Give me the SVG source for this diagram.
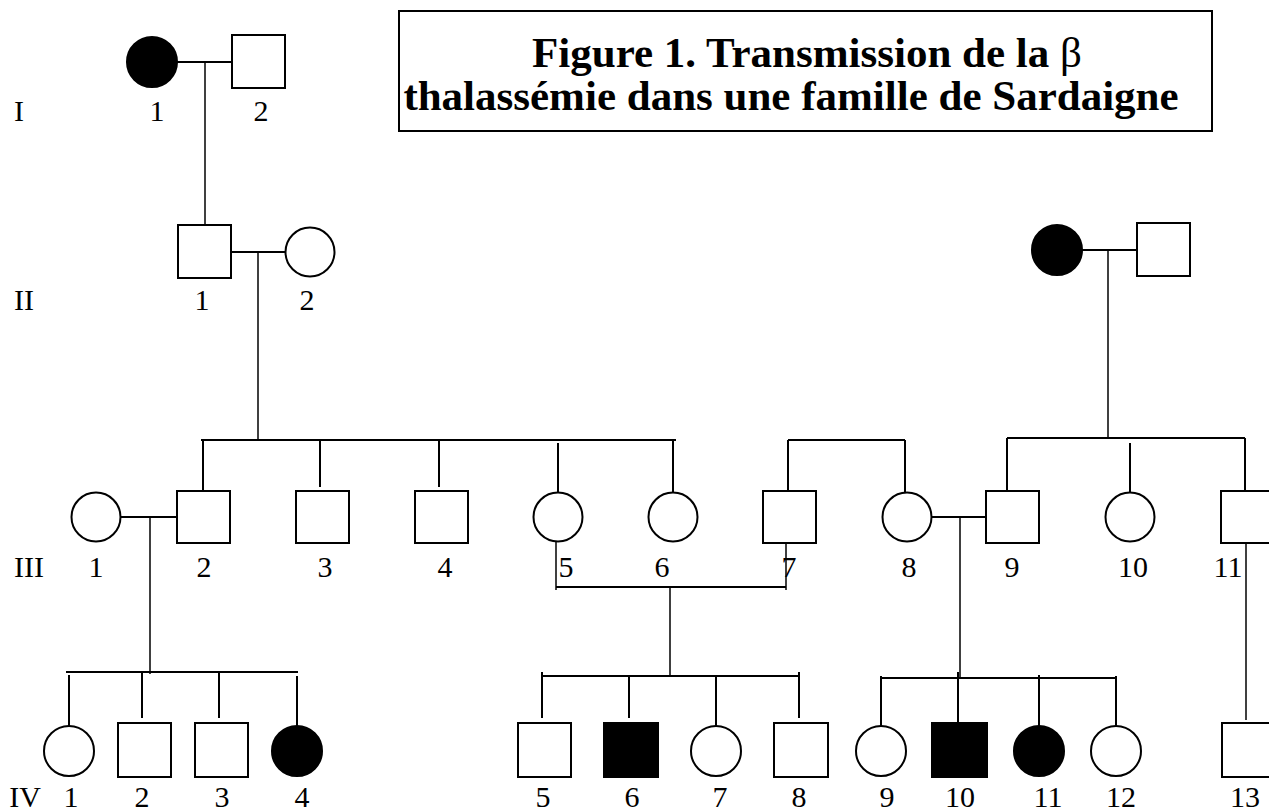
<svg xmlns="http://www.w3.org/2000/svg" width="1269" height="811" viewBox="0 0 1269 811">
<style>
.sh{fill:#fff;stroke:#000;stroke-width:2}
.af{fill:#000;stroke:#000;stroke-width:2}
.ln{stroke:#000;stroke-width:2;fill:none}
.th{stroke:#000;stroke-width:1.5;fill:none}
.lb{font-family:"Liberation Serif","Times New Roman",serif;font-size:30px;fill:#000;text-anchor:middle}
.tt{font-family:"Liberation Serif","Times New Roman",serif;font-size:43px;font-weight:bold;fill:#000;text-anchor:middle}
</style>
<rect width="1269" height="811" fill="#fff"/>
<g id="title">
<rect x="399" y="11" width="813" height="120" fill="#fff" stroke="#000" stroke-width="2"/>
<text class="tt" x="807" y="67">Figure 1. Transmission de la <tspan font-weight="normal">β</tspan></text>
<text class="tt" x="791" y="110">thalassémie dans une famille de Sardaigne</text>
</g>
<g id="generation-labels">
<text class="lb" x="19" y="121">I</text>
<text class="lb" x="24" y="310">II</text>
<text class="lb" x="29" y="577">III</text>
<text class="lb" x="25" y="807">IV</text>
</g>
<g id="connectors">
<line class="ln" x1="177" y1="62" x2="232" y2="62"/>
<line class="th" x1="205" y1="62" x2="205" y2="226"/>
<line class="ln" x1="231" y1="252" x2="286" y2="252"/>
<line class="th" x1="258" y1="252" x2="258" y2="440"/>
<line class="ln" x1="1082" y1="250" x2="1137" y2="250"/>
<line class="th" x1="1108" y1="250" x2="1108" y2="438"/>
<line class="ln" x1="201" y1="440" x2="676" y2="440"/>
<line class="ln" x1="203" y1="440" x2="203" y2="491"/>
<line class="ln" x1="320" y1="440" x2="320" y2="487"/>
<line class="ln" x1="439" y1="440" x2="439" y2="487"/>
<line class="ln" x1="558" y1="443" x2="558" y2="492"/>
<line class="ln" x1="673" y1="440" x2="673" y2="492"/>
<line class="ln" x1="788" y1="440" x2="905" y2="440"/>
<line class="ln" x1="788" y1="440" x2="788" y2="491"/>
<line class="ln" x1="905" y1="440" x2="905" y2="492"/>
<line class="ln" x1="1007" y1="438" x2="1245" y2="438"/>
<line class="ln" x1="1007" y1="438" x2="1007" y2="491"/>
<line class="ln" x1="1130" y1="443" x2="1130" y2="492"/>
<line class="ln" x1="1245" y1="438" x2="1245" y2="491"/>
<line class="ln" x1="120" y1="517" x2="177" y2="517"/>
<line class="th" x1="150" y1="517" x2="150" y2="674"/>
<line class="ln" x1="931" y1="517" x2="986" y2="517"/>
<line class="th" x1="960" y1="517" x2="960" y2="678"/>
<line class="th" x1="556" y1="542" x2="556" y2="590"/>
<line class="th" x1="786" y1="543" x2="786" y2="590"/>
<line class="ln" x1="556" y1="587" x2="786" y2="587"/>
<line class="th" x1="670" y1="587" x2="670" y2="676"/>
<line class="th" x1="1246" y1="543" x2="1246" y2="720"/>
<line class="ln" x1="66" y1="672" x2="298" y2="672"/>
<line class="ln" x1="69" y1="675" x2="69" y2="726"/>
<line class="ln" x1="142" y1="672" x2="142" y2="718"/>
<line class="ln" x1="219" y1="672" x2="219" y2="718"/>
<line class="ln" x1="297" y1="676" x2="297" y2="726"/>
<line class="ln" x1="542" y1="676" x2="800" y2="676"/>
<line class="ln" x1="542" y1="672" x2="542" y2="718"/>
<line class="ln" x1="629" y1="676" x2="629" y2="718"/>
<line class="ln" x1="716" y1="676" x2="716" y2="726"/>
<line class="ln" x1="799" y1="672" x2="799" y2="718"/>
<line class="ln" x1="881" y1="678" x2="1116" y2="678"/>
<line class="ln" x1="881" y1="676" x2="881" y2="726"/>
<line class="ln" x1="958" y1="672" x2="958" y2="723"/>
<line class="ln" x1="1039" y1="675" x2="1039" y2="726"/>
<line class="ln" x1="1116" y1="676" x2="1116" y2="726"/>
</g>
<g id="I-1"><circle class="af" cx="152" cy="62" r="25"/><text class="lb" x="157" y="121">1</text></g>
<g id="I-2"><rect class="sh" x="232" y="35" width="53" height="53"/><text class="lb" x="261" y="121">2</text></g>
<g id="II-1"><rect class="sh" x="178" y="225" width="53" height="53"/><text class="lb" x="202" y="310">1</text></g>
<g id="II-2"><circle class="sh" cx="310" cy="252" r="24.5"/><text class="lb" x="307" y="310">2</text></g>
<g id="II-3"><circle class="af" cx="1057" cy="250" r="25"/></g>
<g id="II-4"><rect class="sh" x="1137" y="223" width="53" height="53"/></g>
<g id="III-1"><circle class="sh" cx="96" cy="517" r="24.5"/><text class="lb" x="96" y="577">1</text></g>
<g id="III-2"><rect class="sh" x="177" y="491" width="53" height="52"/><text class="lb" x="204" y="577">2</text></g>
<g id="III-3"><rect class="sh" x="296" y="491" width="53" height="52"/><text class="lb" x="325" y="577">3</text></g>
<g id="III-4"><rect class="sh" x="415" y="491" width="53" height="52"/><text class="lb" x="445" y="577">4</text></g>
<g id="III-5"><circle class="sh" cx="558" cy="517" r="24.5"/><text class="lb" x="566" y="577">5</text></g>
<g id="III-6"><circle class="sh" cx="673" cy="517" r="24.5"/><text class="lb" x="662" y="577">6</text></g>
<g id="III-7"><rect class="sh" x="763" y="491" width="53" height="52"/><text class="lb" x="789" y="577">7</text></g>
<g id="III-8"><circle class="sh" cx="907" cy="517" r="24.5"/><text class="lb" x="909" y="577">8</text></g>
<g id="III-9"><rect class="sh" x="986" y="491" width="53" height="52"/><text class="lb" x="1012" y="577">9</text></g>
<g id="III-10"><circle class="sh" cx="1130" cy="517" r="24.5"/><text class="lb" x="1133" y="577">10</text></g>
<g id="III-11"><rect class="sh" x="1221" y="491" width="53" height="52"/><text class="lb" x="1228" y="577">11</text></g>
<g id="IV-1"><circle class="sh" cx="69" cy="751" r="25"/><text class="lb" x="71" y="807">1</text></g>
<g id="IV-2"><rect class="sh" x="118" y="723" width="53" height="54"/><text class="lb" x="142" y="807">2</text></g>
<g id="IV-3"><rect class="sh" x="195" y="723" width="53" height="54"/><text class="lb" x="222" y="807">3</text></g>
<g id="IV-4"><circle class="af" cx="297" cy="751" r="25"/><text class="lb" x="302" y="807">4</text></g>
<g id="IV-5"><rect class="sh" x="518" y="723" width="53" height="54"/><text class="lb" x="543" y="807">5</text></g>
<g id="IV-6"><rect class="af" x="604" y="723" width="54" height="54"/><text class="lb" x="632" y="807">6</text></g>
<g id="IV-7"><circle class="sh" cx="716" cy="751" r="25"/><text class="lb" x="720" y="807">7</text></g>
<g id="IV-8"><rect class="sh" x="774" y="723" width="54" height="54"/><text class="lb" x="799" y="807">8</text></g>
<g id="IV-9"><circle class="sh" cx="881" cy="751" r="25"/><text class="lb" x="887" y="807">9</text></g>
<g id="IV-10"><rect class="af" x="932" y="723" width="55" height="54"/><text class="lb" x="960" y="807">10</text></g>
<g id="IV-11"><circle class="af" cx="1039" cy="751" r="25"/><text class="lb" x="1048" y="807">11</text></g>
<g id="IV-12"><circle class="sh" cx="1116" cy="751" r="25"/><text class="lb" x="1121" y="807">12</text></g>
<g id="IV-13"><rect class="sh" x="1222" y="723" width="53" height="54"/><text class="lb" x="1245" y="807">13</text></g>
</svg>
